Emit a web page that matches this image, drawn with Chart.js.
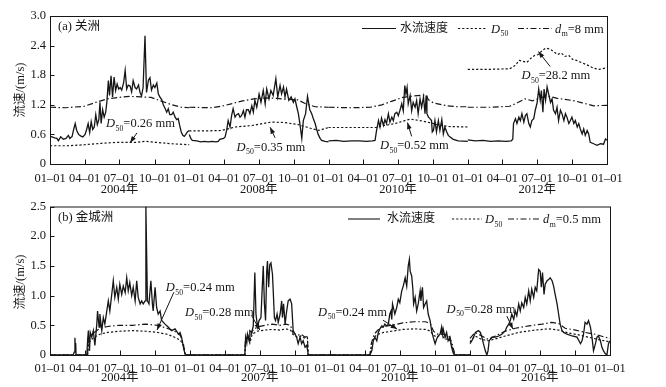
<!DOCTYPE html>
<html><head><meta charset="utf-8">
<script src="https://cdn.jsdelivr.net/npm/chart.js@4.4.1/dist/chart.umd.min.js"></script>
<style>
html,body{margin:0;padding:0;background:#fff;}
canvas{position:absolute;left:0;}
#ca{top:0;} #cb{top:195px;}
</style></head>
<body>
<canvas id="ca" width="666" height="195"></canvas>
<canvas id="cb" width="666" height="192"></canvas>
<script>
const SERIF = "'Liberation Serif','Noto Sans CJK SC'";
const INK = '#161616';

// ---------- axis labels ----------
const quarterLabels = ['01–01','04–01','07–01','10–01'];
const quarterDays = [0,91,182,274];
const yearsA = ['2004年','2008年','2010年','2012年'];
const yearsB = ['2004年','2007年','2010年','2016年'];
const yTicksA = [0,0.6,1.2,1.8,2.4,3.0];
const yLabelsA = ['0','0.6','1.2','1.8','2.4','3.0'];
const yTicksB = [0,0.5,1,1.5,2,2.5];
const yLabelsB = ['0','0.5','1.0','1.5','2.0','2.5'];

// ---------- panel (a) 关洲 : [day of year, value] ----------
const velA2004 = [[0,0.56],[5,0.55],[12,0.53],[18,0.52],[22,0.47],[28,0.55],[35,0.5],[42,0.52],[48,0.58],[52,0.52],[58,0.56],[62,0.7],[66,0.82],[70,0.68],[75,0.6],[80,0.57],[86,0.55],[92,0.6],[96,0.7],[100,0.82],[104,0.64],[108,0.86],[112,0.7],[116,0.75],[120,1.0],[124,0.8],[128,0.9],[131,1.25],[134,0.82],[138,1.1],[142,0.95],[146,1.05],[149,1.25],[153,1.69],[156,1.39],[160,1.79],[164,1.36],[168,1.76],[172,1.49],[176,1.62],[180,1.52],[184,1.55],[188,1.5],[193,1.65],[197,1.9],[201,1.52],[205,1.6],[210,1.58],[214,1.46],[218,1.69],[223,1.55],[227,1.52],[232,1.6],[236,1.45],[240,1.38],[244,1.55],[249,2.6],[253,1.45],[258,1.7],[262,1.75],[266,1.5],[271,1.6],[275,1.55],[280,1.64],[284,1.42],[288,1.36],[293,1.3],[297,1.2],[302,1.12],[306,1.05],[310,1.12],[314,1.0],[319,1.0],[323,1.05],[328,0.95],[332,0.9],[336,0.92],[340,0.78],[344,0.65],[348,0.58],[352,0.56],[356,0.6],[360,0.65],[365,0.68]];
const velA2008 = [[0,0.6],[4,0.52],[8,0.48],[20,0.47],[30,0.45],[40,0.46],[50,0.45],[60,0.46],[70,0.45],[76,0.46],[80,0.5],[90,0.52],[94,0.55],[98,0.68],[102,0.88],[107,0.75],[111,0.98],[115,1.12],[120,0.95],[124,1.0],[129,1.02],[133,0.95],[137,0.98],[142,1.08],[146,0.95],[150,1.1],[155,1.1],[159,1.02],[164,1.18],[168,1.05],[172,1.29],[177,1.15],[183,1.42],[188,1.25],[194,1.49],[199,1.22],[203,1.52],[209,1.32],[214,1.49],[220,1.39],[227,1.73],[232,1.36],[238,1.59],[242,1.42],[247,1.56],[251,1.36],[255,1.52],[261,1.29],[267,1.36],[273,1.25],[277,1.32],[282,1.15],[286,1.02],[290,0.82],[295,0.52],[299,0.88],[305,1.02],[310,1.37],[316,1.1],[321,1.02],[326,0.9],[330,0.82],[334,0.7],[338,0.6],[343,0.52],[347,0.48],[356,0.46],[365,0.45]];
const velA2010 = [[0,0.47],[20,0.48],[40,0.46],[60,0.47],[80,0.47],[100,0.46],[115,0.47],[122,0.48],[126,0.68],[131,0.88],[135,0.75],[139,0.93],[144,0.78],[148,0.9],[152,0.82],[157,1.02],[161,0.85],[166,0.95],[170,0.88],[174,1.02],[179,1.05],[183,0.98],[187,1.08],[192,1.22],[196,1.08],[200,1.59],[203,1.42],[206,1.55],[209,1.22],[214,1.39],[218,1.08],[222,1.25],[227,1.15],[231,1.29],[235,1.02],[240,1.32],[244,1.15],[249,1.36],[253,1.02],[256,1.39],[258,1.02],[262,0.95],[266,0.92],[270,0.88],[272,0.65],[275,0.68],[279,0.88],[283,0.65],[288,0.88],[292,0.68],[297,0.9],[301,0.61],[305,0.75],[310,0.65],[314,0.58],[318,0.55],[327,0.5],[340,0.47],[365,0.46]];
const velA2012 = [[0,0.49],[20,0.47],[40,0.48],[60,0.46],[80,0.47],[100,0.46],[114,0.47],[118,0.5],[120,0.82],[125,0.92],[129,0.82],[134,0.95],[138,0.88],[142,1.02],[147,0.85],[151,0.98],[155,1.02],[160,0.82],[164,0.75],[168,0.88],[173,0.92],[177,1.09],[182,1.25],[186,1.52],[190,1.29],[193,1.49],[197,1.05],[200,1.52],[204,1.29],[208,1.56],[212,1.42],[217,1.25],[221,1.32],[225,1.09],[230,1.02],[234,1.15],[238,0.88],[243,1.09],[247,1.02],[252,0.88],[256,1.02],[260,0.95],[265,0.82],[269,0.88],[273,0.95],[278,0.82],[282,0.88],[287,0.75],[291,0.82],[295,0.71],[300,0.61],[304,0.71],[308,0.58],[313,0.68],[317,0.61],[321,0.44],[330,0.41],[339,0.38],[348,0.41],[356,0.40],[361,0.51],[365,0.48]];

const d50A2004 = [[0,0.37],[45,0.37],[90,0.39],[135,0.42],[180,0.44],[225,0.44],[250,0.46],[275,0.44],[320,0.41],[365,0.39]];
const d50A2008 = [[0,0.67],[40,0.67],[85,0.68],[120,0.75],[165,0.78],[215,0.85],[250,0.84],[285,0.8],[320,0.72],[340,0.68],[365,0.74]];
const d50A2010 = [[0,0.74],[125,0.74],[145,0.78],[175,0.82],[200,0.88],[215,0.91],[240,0.88],[265,0.84],[290,0.79],[315,0.76],[365,0.75]];
const d50A2012 = [[0,1.92],[60,1.92],[110,1.93],[125,2.0],[135,2.1],[145,2.08],[155,2.06],[165,2.14],[175,2.2],[185,2.22],[195,2.3],[205,2.35],[215,2.33],[225,2.28],[235,2.22],[245,2.25],[255,2.18],[265,2.2],[275,2.12],[285,2.1],[300,2.05],[315,2.0],[330,1.94],[345,1.92],[365,1.95]];

const dmA2004 = [[0,1.15],[40,1.14],[90,1.17],[120,1.25],[150,1.32],[180,1.35],[210,1.37],[240,1.36],[265,1.35],[290,1.28],[320,1.2],[345,1.15],[365,1.14]];
const dmA2008 = [[0,1.15],[60,1.14],[90,1.18],[110,1.22],[140,1.28],[170,1.32],[200,1.34],[230,1.33],[260,1.31],[285,1.3],[305,1.22],[330,1.16],[365,1.15]];
const dmA2010 = [[0,1.15],[60,1.14],[110,1.15],[140,1.2],[165,1.27],[195,1.35],[225,1.38],[255,1.4],[262,1.3],[275,1.24],[310,1.18],[340,1.16],[365,1.16]];
const dmA2012 = [[0,1.15],[60,1.15],[110,1.17],[130,1.24],[150,1.32],[170,1.28],[195,1.35],[215,1.37],[235,1.33],[255,1.31],[280,1.28],[300,1.24],[330,1.18],[365,1.19]];

// ---------- panel (b) 金城洲 ----------
const velB2004 = [[0,0],[61,0],[63,0.05],[65,0.29],[66,0.12],[67,0.2],[68,0],[96,0],[98,0.24],[100,0.41],[103,0.07],[105,0.38],[109,0.3],[113,0.41],[117,0.16],[122,0.52],[124,0.74],[128,0.47],[130,0.69],[135,0.41],[139,0.63],[143,0.52],[148,0.74],[152,0.91],[156,0.74],[161,1.02],[165,1.25],[169,0.97],[174,1.14],[178,0.94],[182,1.19],[187,1.02],[191,1.16],[196,1.05],[200,1.30],[204,1.08],[208,1.22],[213,1.0],[217,1.14],[222,0.91],[226,1.25],[230,0.97],[235,0.86],[239,0.91],[243,0.86],[248,0.91],[250,2.5],[254,0.91],[258,0.86],[263,1.25],[267,0.86],[269,0.74],[274,1.14],[278,0.8],[282,0.69],[287,0.74],[291,0.58],[300,0.52],[308,0.47],[317,0.41],[326,0.44],[335,0.35],[339,0.38],[343,0.3],[348,0.13],[352,0.02],[356,0],[365,0]];
const velB2007 = [[0,0],[143,0],[145,0.3],[148,0.2],[150,0.35],[154,0.24],[156,0.41],[161,0.38],[165,0.49],[169,1.39],[172,0.69],[176,0.47],[180,0.58],[185,0.63],[188,1.08],[191,1.5],[194,0.86],[197,0.58],[200,1.41],[202,1.58],[205,1.14],[208,1.52],[211,1.55],[215,1.36],[217,1.08],[220,0.63],[223,0.58],[227,0.69],[230,0.55],[235,0.69],[239,0.91],[241,0.63],[244,0.86],[248,0.52],[252,0.74],[256,0.91],[261,0.94],[265,0.86],[269,0.41],[274,0.35],[278,0.3],[282,0.19],[287,0.3],[291,0.19],[295,0.24],[300,0.13],[304,0.16],[307,0.07],[308,0],[365,0]];
const velB2010 = [[0,0],[104,0],[109,0.07],[113,0.24],[117,0.3],[122,0.24],[126,0.38],[130,0.44],[135,0.49],[139,0.47],[143,0.52],[148,0.49],[152,0.52],[156,0.69],[159,0.74],[161,0.6],[163,0.86],[169,0.69],[174,0.8],[178,0.94],[182,0.88],[187,1.08],[191,1.16],[196,1.30],[200,1.16],[204,1.5],[207,1.61],[209,1.41],[213,1.33],[216,1.11],[218,0.86],[222,0.97],[226,0.74],[230,0.86],[235,1.08],[237,0.91],[241,1.14],[244,0.8],[248,0.86],[252,0.91],[256,0.69],[261,0.58],[265,0.41],[269,0.3],[274,0.19],[278,0.27],[282,0.32],[287,0.35],[291,0.47],[293,0.35],[295,0.44],[300,0.3],[304,0.38],[308,0.24],[313,0.3],[317,0.13],[322,0.02],[326,0],[365,0]];
const velB2016 = [[0,0.19],[5,0.24],[9,0.3],[14,0.38],[22,0.41],[27,0.38],[31,0.3],[35,0.19],[40,0.07],[44,0],[47,0.07],[50,0.24],[57,0.3],[66,0.3],[75,0.32],[83,0.35],[92,0.41],[96,0.47],[101,0.52],[105,0.58],[109,0.69],[114,0.6],[118,0.74],[122,0.66],[127,0.86],[131,0.74],[135,0.88],[140,0.8],[144,0.97],[148,0.86],[153,1.08],[157,0.91],[161,1.11],[166,0.97],[170,1.14],[174,1.08],[179,1.44],[183,1.41],[186,1.14],[189,1.39],[193,1.02],[196,1.19],[201,1.25],[205,1.27],[209,1.30],[214,1.25],[218,1.16],[222,1.02],[227,0.86],[231,0.69],[235,0.52],[240,0.41],[244,0.38],[253,0.35],[266,0.32],[279,0.3],[288,0.19],[292,0.24],[296,0.35],[300,0.55],[305,0.52],[309,0.58],[314,0.47],[318,0.3],[322,0.07],[327,0.19],[331,0.3],[335,0.32],[340,0.24],[344,0.13],[348,0.07],[353,0.02],[357,0],[361,0.19],[365,0.24]];

const d50B2004 = [[0,0],[98,0],[100,0.2],[115,0.3],[130,0.35],[150,0.38],[180,0.4],[215,0.41],[250,0.4],[280,0.38],[305,0.35],[325,0.3],[340,0.25],[348,0.15],[352,0.02],[355,0],[365,0]];
const d50B2007 = [[0,0],[143,0],[145,0.25],[150,0.32],[156,0.2],[162,0.35],[175,0.4],[195,0.42],[215,0.43],[235,0.42],[250,0.44],[262,0.42],[268,0.35],[280,0.3],[290,0.32],[300,0.28],[306,0.3],[308,0],[365,0]];
const d50B2010 = [[0,0],[104,0],[108,0.15],[115,0.3],[125,0.35],[140,0.38],[160,0.4],[190,0.43],[220,0.44],[250,0.43],[262,0.4],[270,0.33],[280,0.3],[290,0.36],[300,0.26],[310,0.28],[318,0.15],[324,0.03],[326,0],[365,0]];
const d50B2016 = [[0,0.22],[13,0.32],[31,0.26],[48,0.24],[66,0.27],[92,0.32],[127,0.38],[170,0.42],[205,0.44],[231,0.42],[257,0.37],[283,0.34],[309,0.3],[335,0.26],[365,0.22]];

const dmB2004 = [[0,0],[98,0],[100,0.3],[115,0.38],[130,0.45],[150,0.48],[180,0.5],[215,0.5],[250,0.52],[280,0.5],[305,0.45],[325,0.4],[340,0.33],[348,0.18],[352,0.02],[355,0],[365,0]];
const dmB2007 = [[0,0],[143,0],[145,0.3],[150,0.35],[156,0.25],[162,0.4],[175,0.47],[195,0.5],[215,0.52],[235,0.5],[250,0.52],[262,0.5],[268,0.38],[280,0.33],[290,0.35],[300,0.3],[306,0.32],[308,0],[365,0]];
const dmB2010 = [[0,0],[104,0],[108,0.2],[115,0.35],[125,0.42],[140,0.48],[160,0.5],[190,0.54],[220,0.56],[250,0.56],[262,0.52],[270,0.4],[280,0.35],[290,0.4],[300,0.3],[310,0.32],[318,0.2],[324,0.05],[326,0],[365,0]];
const dmB2016 = [[0,0.28],[13,0.38],[31,0.32],[48,0.26],[66,0.32],[92,0.4],[118,0.45],[153,0.49],[188,0.52],[213,0.55],[231,0.53],[248,0.45],[275,0.42],[300,0.38],[326,0.35],[352,0.3],[365,0.28]];

// ---------- annotations (data coords: global day, value) ----------
const notesA = [
  {t:'=0.26 mm', x:147, y:0.755, tail:[228,0.63], head:[210,0.43]},
  {t:'=0.35 mm', x:489, y:0.27, tail:[590,0.53], head:[577,0.745]},
  {t:'=0.52 mm', x:865, y:0.30, tail:[948,0.56], head:[937,0.84]},
  {t:'=28.2 mm', x:1236, y:1.717, tail:[1311,1.976], head:[1280,2.28]}
];
const notesB = [
  {t:'=0.24 mm', x:302, y:1.074, tail:[323,1.057], head:[279,0.42]},
  {t:'=0.28 mm', x:352, y:0.654, tail:[526,0.66], head:[547,0.42]},
  {t:'=0.24 mm', x:699, y:0.663, tail:[868,0.587], head:[905,0.436]},
  {t:'=0.28 mm', x:1034, y:0.713, tail:[1191,0.654], head:[1207,0.436]}
];

const DASH_D50 = [2.2,2];
const DASH_DM = [6,2.5,1.5,2.5];

function rich(c, x, y, parts, size){
  let cx = x;
  c.textAlign='left'; c.textBaseline='alphabetic';
  for(const p of parts){
    const fs = p.sub ? size*0.62 : size;
    c.font = (p.it?'italic ':'') + fs + 'px ' + SERIF;
    c.fillText(p.t, cx, y + (p.sub ? size*0.3 : 0));
    cx += c.measureText(p.t).width + (p.it ? 0.5 : 0);
  }
  return cx;
}
function arrow(c, x1,y1,x2,y2){
  c.beginPath(); c.moveTo(x1,y1); c.lineTo(x2,y2); c.stroke();
  const ang = Math.atan2(y2-y1,x2-x1), L=6.5, W=2.4;
  c.beginPath();
  c.moveTo(x2,y2);
  c.lineTo(x2 - L*Math.cos(ang) + W*Math.sin(ang), y2 - L*Math.sin(ang) - W*Math.cos(ang));
  c.lineTo(x2 - L*Math.cos(ang) - W*Math.sin(ang), y2 - L*Math.sin(ang) + W*Math.cos(ang));
  c.closePath(); c.fill();
}

function buildPanel(P){
  const datasets = [];
  for(let i=0;i<4;i++){
    const off = i*365;
    const conv = a => a.map(p => ({x:p[0]+off, y:p[1]}));
    datasets.push({data:conv(P.vel[i]), borderColor:INK, borderWidth:1.3, pointRadius:0, tension:0});
    datasets.push({data:conv(P.d50[i]), borderColor:INK, borderWidth:1.2, borderDash:DASH_D50, pointRadius:0, tension:0});
    datasets.push({data:conv(P.dm[i]), borderColor:INK, borderWidth:1.2, borderDash:DASH_DM, pointRadius:0, tension:0});
  }
  const xTicks = [];
  for(let i=0;i<4;i++) quarterDays.forEach(d => xTicks.push(i*365+d));
  xTicks.push(1460);

  const extras = {
    id:'extras',
    afterDraw(chart){
      const c = chart.ctx, a = chart.chartArea, xs = chart.scales.x, ys = chart.scales.y;
      c.save();
      c.strokeStyle = INK; c.fillStyle = INK; c.lineWidth = 1; c.setLineDash([]);
      c.strokeRect(a.left+0.5, a.top+0.5, a.right-a.left, a.bottom-a.top);
      c.beginPath();
      xTicks.forEach(v => { const px = Math.round(xs.getPixelForValue(v))+0.5; c.moveTo(px,a.bottom); c.lineTo(px,a.bottom-4.5); });
      P.yTicks.forEach(v => { const py = Math.round(ys.getPixelForValue(v))+0.5; c.moveTo(a.left,py); c.lineTo(a.left+4.5,py); });
      c.stroke();
      // year labels
      c.font = '12.5px ' + SERIF; c.textAlign='center'; c.textBaseline='middle';
      P.years.forEach((y,i) => c.fillText(y, xs.getPixelForValue(i*365+182), P.yearY));
      // y title
      c.save(); c.translate(P.titleX, P.titleY); c.rotate(-Math.PI/2);
      c.font = '12.5px ' + SERIF; c.textAlign='center'; c.textBaseline='middle';
      c.fillText('流速/(m/s)', 0, 0); c.restore();
      // panel label
      c.font = '12.5px ' + SERIF; c.textAlign='left'; c.textBaseline='middle';
      c.fillText(P.label, a.left+8, a.top+11);
      // legend
      const L = P.legend, ly = a.top + L.dy;
      c.lineWidth = 1.1;
      c.beginPath(); c.moveTo(L.solid[0], ly); c.lineTo(L.solid[1], ly); c.stroke();
      c.font = '12px ' + SERIF; c.textBaseline='middle';
      c.fillText('水流速度', L.text1, ly);
      c.setLineDash(DASH_D50);
      c.beginPath(); c.moveTo(L.dot[0], ly); c.lineTo(L.dot[1], ly); c.stroke();
      c.setLineDash(DASH_DM);
      c.beginPath(); c.moveTo(L.dd[0], ly); c.lineTo(L.dd[1], ly); c.stroke();
      c.setLineDash([]);
      rich(c, L.text2, ly+4, [{t:'D',it:true},{t:'50',sub:true}], 12.5);
      rich(c, L.text3, ly+4, [{t:'d',it:true},{t:'m',sub:true},{t:P.dmText}], 12.5);
      // annotations
      c.lineWidth = 1;
      P.notes.forEach(n => {
        rich(c, xs.getPixelForValue(n.x), ys.getPixelForValue(n.y), [{t:'D',it:true},{t:'50',sub:true},{t:n.t}], 12.5);
        arrow(c, xs.getPixelForValue(n.tail[0]), ys.getPixelForValue(n.tail[1]), xs.getPixelForValue(n.head[0]), ys.getPixelForValue(n.head[1]));
      });
      c.restore();
    }
  };

  return new Chart(document.getElementById(P.id), {
    type:'line',
    data:{datasets},
    options:{
      responsive:false, animation:false, devicePixelRatio:1,
      layout:{padding:{left:0, right:P.padRight, top:P.padTop, bottom:0}},
      plugins:{legend:{display:false}, tooltip:{enabled:false}},
      scales:{
        x:{type:'linear', min:0, max:1460,
           afterBuildTicks: s => { s.ticks = xTicks.map(v => ({value:v})); },
           afterFit: s => { s.height = P.xAxisH; },
           grid:{display:false, drawTicks:false}, border:{display:false},
           ticks:{autoSkip:false, maxRotation:0, minRotation:0, padding:P.xPad, color:INK,
                  font:{family:SERIF, size:12.5}, callback:(v,i) => quarterLabels[i%4]}},
        y:{type:'linear', min:0, max:P.yMax,
           afterBuildTicks: s => { s.ticks = P.yTicks.map(v => ({value:v})); },
           afterFit: s => { s.width = 50; },
           grid:{display:false, drawTicks:false}, border:{display:false},
           ticks:{padding:4, color:INK, font:{family:SERIF, size:12.5}, callback:(v,i) => P.yLabels[i]}}
      }
    },
    plugins:[extras]
  });
}

buildPanel({
  id:'ca', vel:[velA2004,velA2008,velA2010,velA2012], d50:[d50A2004,d50A2008,d50A2010,d50A2012], dm:[dmA2004,dmA2008,dmA2010,dmA2012],
  years:yearsA, yTicks:yTicksA, yLabels:yLabelsA, yMax:3.0, padRight:59, padTop:16, xAxisH:31, xPad:7,
  yearY:190, titleX:21, titleY:90, label:'(a) 关洲', dmText:'=8 mm', notes:notesA,
  legend:{dy:12.5, solid:[362,396], text1:400, dot:[458,487], text2:491, dd:[518,552], text3:555}
});
buildPanel({
  id:'cb', vel:[velB2004,velB2007,velB2010,velB2016], d50:[d50B2004,d50B2007,d50B2010,d50B2016], dm:[dmB2004,dmB2007,dmB2010,dmB2016],
  years:yearsB, yTicks:yTicksB, yLabels:yLabelsB, yMax:2.5, padRight:56, padTop:11, xAxisH:32, xPad:6,
  yearY:183, titleX:21, titleY:87, label:'(b) 金城洲', dmText:'=0.5 mm', notes:notesB,
  legend:{dy:12.5, solid:[348,380], text1:387, dot:[452,482], text2:485, dd:[508,540], text3:543}
});
</script>
</body></html>
